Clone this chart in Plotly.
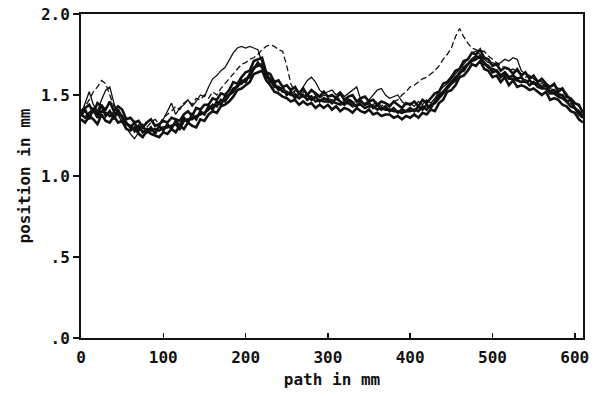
import plotly.graph_objects as go

# path positions in mm (5 mm sampling)
path_mm = [i * 5 for i in range(123)]

bundle_1 = [1.37,1.41,1.35,1.42,1.38,1.44,1.37,1.40,1.35,1.41,1.36,
            1.33,1.30,1.33,1.28,1.31,1.27,1.30,1.26,1.31,1.28,
            1.32,1.29,1.34,1.31,1.36,1.33,1.38,1.35,1.40,1.38,
            1.43,1.41,1.46,1.44,1.49,1.50,1.54,1.55,1.59,1.58,
            1.63,1.66,1.70,1.67,1.63,1.58,1.57,1.53,1.55,1.50,
            1.52,1.48,1.51,1.49,1.50,1.47,1.49,1.46,1.48,1.47,
            1.45,1.48,1.46,1.44,1.47,1.45,1.43,1.46,1.44,1.45,
            1.42,1.44,1.41,1.43,1.40,1.42,1.39,1.41,1.40,1.42,
            1.40,1.43,1.41,1.44,1.42,1.46,1.50,1.52,1.55,1.58,
            1.61,1.63,1.67,1.69,1.72,1.74,1.73,1.70,1.67,1.66,
            1.65,1.62,1.64,1.61,1.62,1.60,1.61,1.58,1.59,1.57,
            1.57,1.55,1.56,1.52,1.53,1.50,1.50,1.46,1.47,1.42,
            1.40,1.37]

bundle_2 = [1.40,1.42,1.44,1.39,1.45,1.43,1.41,1.46,1.40,1.43,1.41,
            1.35,1.36,1.33,1.34,1.30,1.33,1.35,1.31,1.32,1.34,
            1.33,1.36,1.35,1.34,1.38,1.40,1.37,1.42,1.41,1.44,
            1.44,1.48,1.47,1.51,1.50,1.53,1.58,1.57,1.61,1.64,
            1.65,1.71,1.72,1.73,1.64,1.63,1.58,1.59,1.55,1.56,
            1.53,1.55,1.51,1.54,1.50,1.53,1.51,1.49,1.52,1.49,
            1.50,1.48,1.51,1.47,1.49,1.50,1.46,1.48,1.49,1.46,
            1.47,1.44,1.46,1.45,1.43,1.46,1.44,1.42,1.45,1.44,
            1.46,1.43,1.47,1.45,1.48,1.51,1.52,1.57,1.58,1.61,
            1.65,1.66,1.71,1.72,1.76,1.75,1.78,1.73,1.72,1.68,
            1.69,1.65,1.67,1.66,1.63,1.66,1.62,1.64,1.60,1.62,
            1.58,1.60,1.57,1.55,1.57,1.52,1.54,1.49,1.48,1.45,
            1.44,1.39]

bundle_3 = [1.35,1.33,1.37,1.35,1.32,1.38,1.34,1.33,1.37,1.33,1.34,
            1.29,1.28,1.30,1.26,1.24,1.28,1.26,1.25,1.24,1.27,
            1.26,1.29,1.27,1.31,1.29,1.33,1.31,1.30,1.35,1.34,
            1.38,1.40,1.39,1.43,1.44,1.46,1.49,1.53,1.54,1.56,
            1.58,1.63,1.64,1.65,1.59,1.56,1.52,1.51,1.49,1.48,
            1.46,1.47,1.44,1.46,1.44,1.45,1.42,1.44,1.42,1.44,
            1.41,1.43,1.40,1.42,1.41,1.39,1.42,1.40,1.39,1.41,
            1.38,1.39,1.37,1.38,1.38,1.36,1.37,1.35,1.37,1.36,
            1.38,1.36,1.39,1.38,1.41,1.40,1.45,1.47,1.52,1.53,
            1.56,1.61,1.62,1.65,1.69,1.68,1.71,1.66,1.65,1.61,
            1.62,1.58,1.61,1.56,1.59,1.55,1.56,1.55,1.53,1.54,
            1.52,1.50,1.52,1.47,1.48,1.47,1.44,1.43,1.40,1.39,
            1.35,1.33]

bundle_4 = [1.38,1.36,1.39,1.41,1.36,1.40,1.39,1.37,1.39,1.38,1.37,
            1.32,1.31,1.28,1.31,1.27,1.29,1.28,1.29,1.28,1.30,
            1.30,1.31,1.32,1.29,1.34,1.35,1.35,1.37,1.38,1.39,
            1.41,1.44,1.43,1.47,1.46,1.50,1.52,1.56,1.57,1.60,
            1.61,1.67,1.68,1.69,1.61,1.60,1.55,1.55,1.52,1.52,
            1.50,1.50,1.48,1.50,1.47,1.49,1.46,1.47,1.46,1.46,
            1.46,1.45,1.44,1.45,1.45,1.43,1.44,1.44,1.42,1.43,
            1.43,1.41,1.42,1.41,1.41,1.40,1.40,1.39,1.40,1.40,
            1.41,1.40,1.43,1.41,1.44,1.45,1.48,1.51,1.54,1.57,
            1.59,1.64,1.65,1.69,1.71,1.72,1.74,1.69,1.68,1.64,
            1.65,1.61,1.63,1.60,1.60,1.59,1.58,1.59,1.56,1.58,
            1.55,1.54,1.54,1.51,1.51,1.49,1.48,1.46,1.43,1.42,
            1.38,1.36]

thin_solid = [1.38,1.45,1.52,1.44,1.40,1.47,1.53,1.55,1.45,1.38,1.33,
              1.30,1.26,1.23,1.27,1.24,1.28,1.30,1.27,1.31,1.35,
              1.40,1.45,1.38,1.42,1.44,1.47,1.43,1.46,1.50,1.49,
              1.55,1.60,1.62,1.65,1.67,1.72,1.76,1.79,1.80,1.79,
              1.80,1.79,1.78,1.70,1.64,1.60,1.56,1.54,1.52,1.51,
              1.50,1.53,1.51,1.55,1.59,1.61,1.58,1.53,1.51,1.52,
              1.53,1.50,1.52,1.49,1.51,1.53,1.55,1.47,1.44,1.47,
              1.50,1.53,1.54,1.50,1.48,1.49,1.50,1.46,1.44,1.45,
              1.43,1.46,1.44,1.47,1.45,1.48,1.52,1.55,1.57,1.60,
              1.63,1.66,1.69,1.72,1.76,1.77,1.75,1.72,1.70,1.70,
              1.69,1.70,1.72,1.71,1.73,1.72,1.65,1.63,1.62,1.60,
              1.59,1.58,1.57,1.55,1.56,1.54,1.54,1.51,1.47,1.45,
              1.43,1.39]

dashed = [1.40,1.43,1.47,1.52,1.55,1.59,1.57,1.50,1.43,1.38,1.35,
          1.32,1.30,1.27,1.29,1.32,1.30,1.33,1.35,1.32,1.36,
          1.38,1.40,1.43,1.41,1.45,1.47,1.44,1.48,1.47,1.50,
          1.48,1.52,1.50,1.54,1.57,1.60,1.63,1.66,1.69,1.70,
          1.72,1.73,1.75,1.78,1.80,1.81,1.80,1.78,1.77,1.68,
          1.57,1.51,1.49,1.52,1.50,1.49,1.51,1.48,1.50,1.48,
          1.47,1.49,1.47,1.46,1.48,1.46,1.45,1.47,1.45,1.46,
          1.44,1.46,1.43,1.45,1.44,1.46,1.47,1.50,1.52,1.55,
          1.56,1.58,1.60,1.61,1.63,1.65,1.68,1.72,1.75,1.79,
          1.86,1.91,1.86,1.82,1.79,1.78,1.77,1.77,1.74,1.72,
          1.70,1.68,1.67,1.65,1.66,1.64,1.63,1.61,1.62,1.60,
          1.58,1.57,1.56,1.54,1.53,1.51,1.50,1.47,1.45,1.42,
          1.39,1.37]

x_ticks = [0, 100, 200, 300, 400, 500, 600]
x_labels = ["0", "100", "200", "300", "400", "500", "600"]
y_ticks = [0.0, 0.5, 1.0, 1.5, 2.0]
y_labels = [".0", ".5", "1.0", "1.5", "2.0"]

FONT = "DejaVu Sans Mono"
INK = "#111111"

fig = go.Figure()
for ys in (bundle_1, bundle_2, bundle_3, bundle_4):
    fig.add_trace(go.Scatter(x=path_mm, y=ys, mode="lines",
                             line=dict(color=INK, width=2.6), showlegend=False))
fig.add_trace(go.Scatter(x=path_mm, y=thin_solid, mode="lines",
                         line=dict(color=INK, width=1.3), showlegend=False))
fig.add_trace(go.Scatter(x=path_mm, y=dashed, mode="lines",
                         line=dict(color=INK, width=1.3, dash="6px,3px"), showlegend=False))

fig.update_layout(
    width=595, height=396,
    margin=dict(l=81, r=12, t=14, b=58, autoexpand=False),
    paper_bgcolor="white", plot_bgcolor="white",
    font=dict(family=FONT, size=16, color=INK, weight="bold"),
)
fig.update_xaxes(
    range=[0, 610], tickvals=x_ticks, ticktext=x_labels, automargin=False,
    showgrid=False, zeroline=False, ticklabeloverflow="allow",
    showline=True, linecolor=INK, linewidth=2, mirror=True,
    ticks="inside", ticklen=5, tickwidth=1.5, tickcolor=INK,
    ticklabelstandoff=4,
    tickfont=dict(family=FONT, size=16, weight="bold"),
    title=dict(text="path in mm", font=dict(family=FONT, size=16, weight="bold"), standoff=8),
)
fig.update_yaxes(
    range=[0, 2.0], tickvals=y_ticks, ticktext=y_labels, automargin=False,
    showgrid=False, zeroline=False, ticklabeloverflow="allow",
    showline=True, linecolor=INK, linewidth=2, mirror=True,
    ticks="outside", ticklen=6, tickwidth=1.5, tickcolor=INK,
    tickfont=dict(family=FONT, size=16, weight="bold"),
    title=dict(text="position in mm", font=dict(family=FONT, size=16, weight="bold"), standoff=6),
)

fig.write_html("out.html",
               config={"displayModeBar": False, "staticPlot": True},
               post_script="document.body.style.margin='0';document.body.style.overflow='hidden';")
